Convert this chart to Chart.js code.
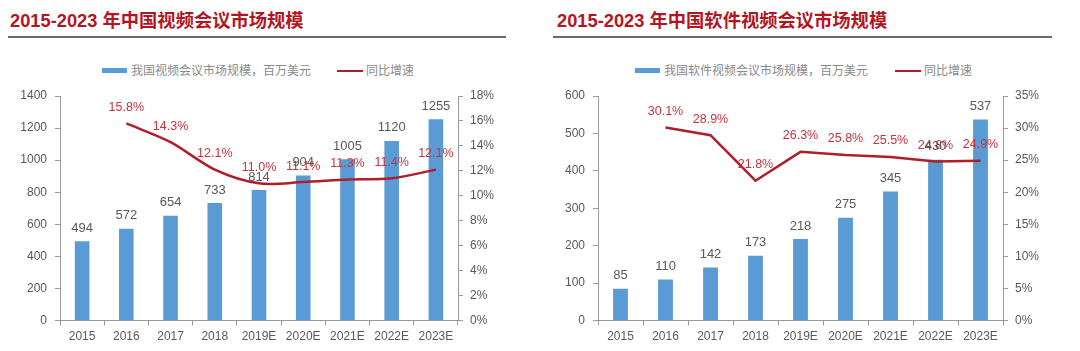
<!DOCTYPE html>
<html><head><meta charset="utf-8">
<script src="https://cdn.jsdelivr.net/npm/chart.js@4"></script>
<style>
html,body{margin:0;padding:0;background:#fff;width:1080px;height:351px;overflow:hidden;position:relative;font-family:"Noto Sans CJK SC","Noto Sans",sans-serif}
.title{position:absolute;top:6px;font:bold 18.3px "Liberation Sans","Noto Sans CJK SC",sans-serif;color:#B4161F;white-space:nowrap;letter-spacing:0}
.rule{position:absolute;top:36px;height:2px;background:#6a6a6a}
.lg{position:absolute;top:62px;font-size:12px;color:#8a8a8a;white-space:nowrap;line-height:16px}
.box{position:absolute;top:6px;height:5px;width:25px}
.cv{position:absolute;top:80px;height:271px}
</style></head><body>
<div class="title" style="left:10px">2015-2023 年中国视频会议市场规模</div>
<div class="rule" style="left:8px;width:498px"></div>
<div class="lg" style="left:102px"><span class="box" style="left:0;background:#5B9BD5"></span><span style="position:absolute;left:29px">我国视频会议市场规模，百万美元</span><span class="box" style="left:235px;height:2px;top:8px;width:26px;background:#B01E2A"></span><span style="position:absolute;left:264px">同比增速</span></div>

<div class="title" style="left:557px">2015-2023 年中国软件视频会议市场规模</div>
<div class="rule" style="left:553px;width:499px"></div>
<div class="lg" style="left:635px"><span class="box" style="left:0;background:#5B9BD5"></span><span style="position:absolute;left:29px">我国软件视频会议市场规模，百万美元</span><span class="box" style="left:260px;height:2px;top:8px;width:26px;background:#B01E2A"></span><span style="position:absolute;left:289px">同比增速</span></div>

<div class="cv" style="left:0;width:540px"><canvas id="c1"></canvas></div>
<div class="cv" style="left:540px;width:540px"><canvas id="c2"></canvas></div>
<script>
const categories = ["2015","2016","2017","2018","2019E","2020E","2021E","2022E","2023E"];
const marketTotal = [494,572,654,733,814,904,1005,1120,1255];
const growthTotal = [null,15.8,14.3,12.1,11.0,11.1,11.3,11.4,12.1];
const marketSoftware = [85,110,142,173,218,275,345,430,537];
const growthSoftware = [null,30.1,28.9,21.8,26.3,25.8,25.5,24.8,24.9];
const leftTicks1 = {max:1400, step:200};
const rightTicks1 = {max:18, step:2};
const leftTicks2 = {max:600, step:100};
const rightTicks2 = {max:35, step:5};

const GRAY='#595959', AXIS='#9a9a9a', BAR='#5B9BD5', LINE='#B01E2A', LRED='#C8323C';
const tickFont={family:'"Liberation Sans", sans-serif', size:12};

const labelPlugin = {
  id:'valLabels',
  afterDatasetsDraw(chart){
    const ctx=chart.ctx;
    ctx.save();
    ctx.textAlign='center';
    ctx.textBaseline='middle';
    chart.data.datasets.forEach((ds,i)=>{
      const meta=chart.getDatasetMeta(i);
      meta.data.forEach((el,j)=>{
        const v=ds.data[j];
        if(v===null||v===undefined) return;
        if(ds.type==='line'){
          ctx.fillStyle=LRED;
          ctx.font='12.5px "Liberation Sans", sans-serif';
          ctx.fillText(v.toFixed(1)+'%', el.x, el.y-16);
        } else {
          ctx.fillStyle=GRAY;
          ctx.font='13px "Liberation Sans", sans-serif';
          ctx.fillText(String(v), el.x, el.y-13);
        }
      });
    });
    ctx.restore();
  }
};

function make(id, bars, growth, lt, rt, leftW, rightW, tension){
  new Chart(document.getElementById(id), {
    data:{
      labels:categories,
      datasets:[
        {type:'line', data:growth, yAxisID:'y1', borderColor:LINE, borderWidth:2.5, pointRadius:0, tension:tension, spanGaps:false, order:0},
        {type:'bar', data:bars, yAxisID:'y', backgroundColor:BAR, categoryPercentage:1, barPercentage:0.33, order:1}
      ]
    },
    options:{
      responsive:true, maintainAspectRatio:false, animation:false,
      layout:{padding:{top:16,bottom:3,left:0,right:0}},
      plugins:{legend:{display:false}, tooltip:{enabled:false}},
      scales:{
        x:{
          grid:{drawOnChartArea:false, drawTicks:true, tickLength:5, color:AXIS, offset:true},
          border:{color:AXIS, width:1},
          ticks:{color:GRAY, font:tickFont, padding:4, maxRotation:0}
        },
        y:{
          position:'left', min:0, max:lt.max,
          afterFit(s){s.width=leftW;},
          grid:{drawOnChartArea:false, drawTicks:true, tickLength:5, color:AXIS},
          border:{color:AXIS, width:1},
          ticks:{stepSize:lt.step, color:GRAY, font:tickFont, padding:8, callback:v=>String(v)}
        },
        y1:{
          position:'right', min:0, max:rt.max,
          afterFit(s){s.width=rightW;},
          grid:{drawOnChartArea:false, drawTicks:true, tickLength:5, color:AXIS},
          border:{color:AXIS, width:1},
          ticks:{stepSize:rt.step, color:GRAY, font:tickFont, padding:7, callback:v=>v+'%'}
        }
      }
    },
    plugins:[labelPlugin]
  });
}
make('c1', marketTotal, growthTotal, leftTicks1, rightTicks1, 60, 82, 0.3);
make('c2', marketSoftware, growthSoftware, leftTicks2, rightTicks2, 58, 77, 0);
</script>
</body></html>
